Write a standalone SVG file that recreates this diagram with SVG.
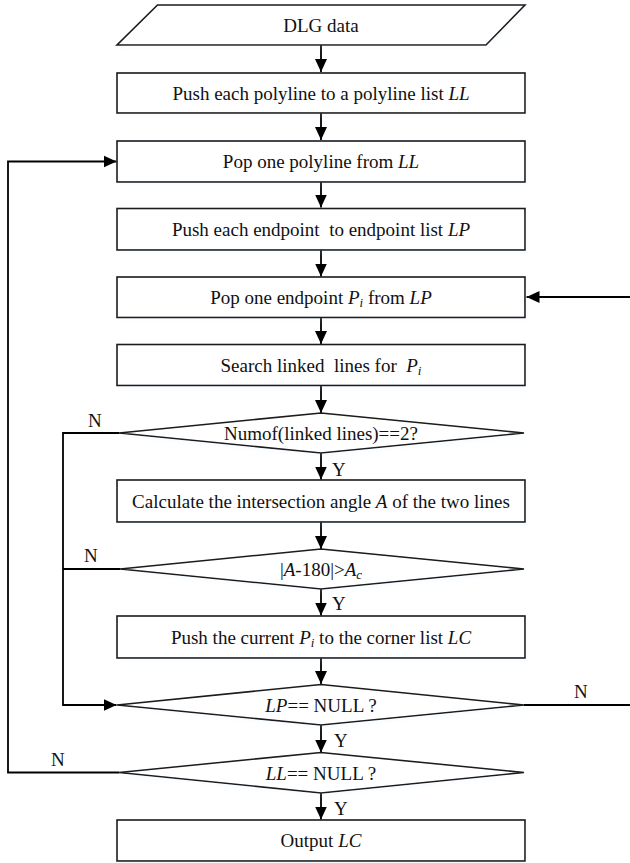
<svg xmlns="http://www.w3.org/2000/svg" width="630" height="863" viewBox="0 0 630 863">
<defs>
<marker id="arr" markerUnits="userSpaceOnUse" markerWidth="14" markerHeight="14" viewBox="0 0 14 14" refX="13" refY="7" orient="auto">
<path d="M0,1 L13,7 L0,13 Z" fill="#000"/>
</marker>
<filter id="sh" x="-5%" y="-20%" width="112%" height="150%">
<feGaussianBlur in="SourceAlpha" stdDeviation="2"/>
<feOffset dx="2" dy="3"/>
<feComponentTransfer><feFuncA type="linear" slope="0.12"/></feComponentTransfer>
<feColorMatrix type="matrix" values="0 0 0 0 0.6  0 0 0 0 0.75  0 0 0 0 0.95  0 0 0 1 0"/>
<feMerge><feMergeNode/><feMergeNode in="SourceGraphic"/></feMerge>
</filter>
</defs>
<style>
.shape{fill:#fff;stroke:#1a1a1a;stroke-width:1.6;filter:url(#sh)}
.t{font-family:"Liberation Serif","Times New Roman",serif;font-size:19px;fill:#111;text-anchor:middle;white-space:pre}
.lbl{font-family:"Liberation Serif","Times New Roman",serif;font-size:19px;fill:#111}
.i{font-style:italic}
.sub{font-size:13px;font-style:italic}
.c{fill:none;stroke:#000;stroke-width:1.8}
</style>
<rect width="630" height="863" fill="#fff"/>
<g id="connectors">
<path class="c" d="M321,45 V72" marker-end="url(#arr)"/>
<path class="c" d="M321,113 V140" marker-end="url(#arr)"/>
<path class="c" d="M321,182 V207.5" marker-end="url(#arr)"/>
<path class="c" d="M321,250 V276.5" marker-end="url(#arr)"/>
<path class="c" d="M321,317.5 V344" marker-end="url(#arr)"/>
<path class="c" d="M321,385.5 V413" marker-end="url(#arr)"/>
<path class="c" d="M321,453 V479.5" marker-end="url(#arr)"/>
<path class="c" d="M321,522 V549" marker-end="url(#arr)"/>
<path class="c" d="M321,589 V615.5" marker-end="url(#arr)"/>
<path class="c" d="M321,658 V684" marker-end="url(#arr)"/>
<path class="c" d="M321,725 V752.5" marker-end="url(#arr)"/>
<path class="c" d="M321,793 V819.5" marker-end="url(#arr)"/>
<path class="c" d="M119,772.5 H8 V161.5 H116.5" marker-end="url(#arr)"/>
<path class="c" d="M119,433 H63 V705 H116.5" marker-end="url(#arr)"/>
<path class="c" d="M120,569 H63"/>
<path class="c" d="M524,705 H634 V297 H526.5" marker-end="url(#arr)"/>
<text class="lbl" x="88" y="427">N</text>
<text class="lbl" x="84" y="562">N</text>
<text class="lbl" x="574" y="698">N</text>
<text class="lbl" x="51" y="766">N</text>
<text class="lbl" x="332" y="476">Y</text>
<text class="lbl" x="332" y="610">Y</text>
<text class="lbl" x="334" y="747">Y</text>
<text class="lbl" x="334" y="815">Y</text>
</g>
<g id="n_dlg">
<polygon class="shape" points="157.5,5 525,5 486,45 117,45"/>
<text class="t" x="321" y="32">DLG data</text>
</g>
<g id="n_push_ll">
<rect class="shape" x="117" y="73" width="408" height="40"/>
<text class="t" x="321" y="100">Push each polyline to a polyline list <tspan class="i">LL</tspan></text>
</g>
<g id="n_pop_ll">
<rect class="shape" x="117" y="141" width="408" height="41"/>
<text class="t" x="321" y="168">Pop one polyline from <tspan class="i">LL</tspan></text>
</g>
<g id="n_push_lp">
<rect class="shape" x="117" y="208.5" width="408" height="41.5"/>
<text class="t" x="321" y="236">Push each endpoint  to endpoint list <tspan class="i">LP</tspan></text>
</g>
<g id="n_pop_lp">
<rect class="shape" x="117" y="277" width="408" height="40.5"/>
<text class="t" x="321" y="304">Pop one endpoint <tspan class="i">P</tspan><tspan class="sub" dy="3">i</tspan><tspan dy="-3"> from </tspan><tspan class="i">LP</tspan></text>
</g>
<g id="n_search">
<rect class="shape" x="117" y="344.5" width="408" height="41"/>
<text class="t" x="321" y="372">Search linked  lines for  <tspan class="i">P</tspan><tspan class="sub" dy="3">i</tspan></text>
</g>
<g id="n_dec_num">
<polygon class="shape" points="321,413 524,433 321,453 119,433"/>
<text class="t" x="321" y="440">Numof(linked lines)==2?</text>
</g>
<g id="n_angle">
<rect class="shape" x="117" y="480" width="408" height="42"/>
<text class="t" x="321" y="508">Calculate the intersection angle <tspan class="i">A</tspan> of the two lines</text>
</g>
<g id="n_dec_angle">
<polygon class="shape" points="321,549 524,569 321,589 120,569"/>
<text class="t" x="321" y="576">|<tspan class="i">A</tspan>-180|&gt;<tspan class="i">A</tspan><tspan class="sub" dy="3">c</tspan></text>
</g>
<g id="n_push_lc">
<rect class="shape" x="117" y="616" width="408" height="42"/>
<text class="t" x="321" y="644">Push the current <tspan class="i">P</tspan><tspan class="sub" dy="3">i</tspan><tspan dy="-3"> to the corner list </tspan><tspan class="i">LC</tspan></text>
</g>
<g id="n_dec_lp">
<polygon class="shape" points="321,684.5 524,705 321,725 117,705"/>
<text class="t" x="321" y="712"><tspan class="i">LP</tspan>== NULL ?</text>
</g>
<g id="n_dec_ll">
<polygon class="shape" points="321,752.5 524,772.5 321,793 119,772.5"/>
<text class="t" x="321" y="780"><tspan class="i">LL</tspan>== NULL ?</text>
</g>
<g id="n_output">
<rect class="shape" x="117" y="820" width="408" height="41"/>
<text class="t" x="321" y="847">Output <tspan class="i">LC</tspan></text>
</g>
</svg>
